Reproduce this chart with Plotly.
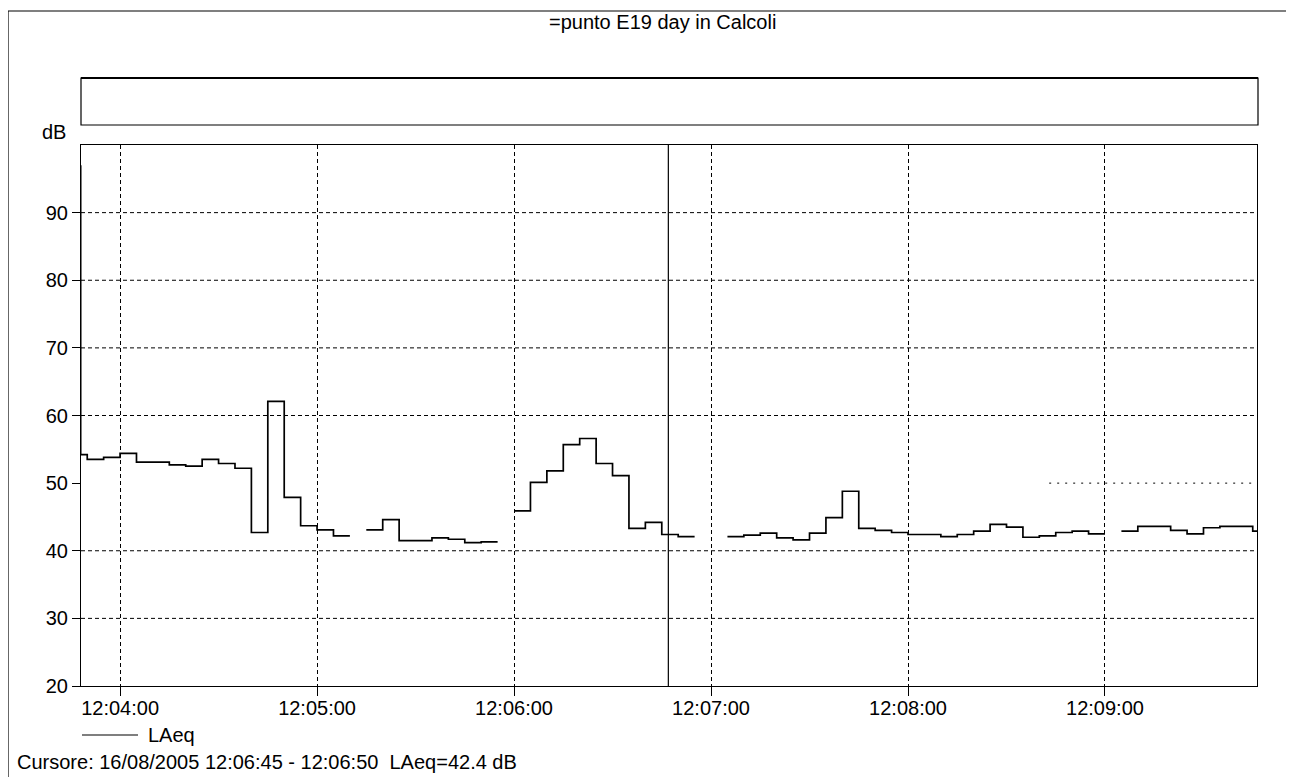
import plotly.graph_objects as go

# LAeq per 5 s interval (level starts at the given time), None = no trace drawn
DAY = "2005-08-16 "
TIMES = [
    "12:03:48", "12:03:48", "12:03:50", "12:03:55",
    "12:04:00", "12:04:05", "12:04:10", "12:04:15", "12:04:20", "12:04:25",
    "12:04:30", "12:04:35", "12:04:40", "12:04:45", "12:04:50", "12:04:55",
    "12:05:00", "12:05:05", "12:05:10", "12:05:15", "12:05:20", "12:05:25",
    "12:05:30", "12:05:35", "12:05:40", "12:05:45", "12:05:50", "12:05:55",
    "12:06:00", "12:06:05", "12:06:10", "12:06:15", "12:06:20", "12:06:25",
    "12:06:30", "12:06:35", "12:06:40", "12:06:45", "12:06:50", "12:06:55",
    "12:07:00", "12:07:05", "12:07:10", "12:07:15", "12:07:20", "12:07:25",
    "12:07:30", "12:07:35", "12:07:40", "12:07:45", "12:07:50", "12:07:55",
    "12:08:00", "12:08:05", "12:08:10", "12:08:15", "12:08:20", "12:08:25",
    "12:08:30", "12:08:35", "12:08:40", "12:08:45", "12:08:50", "12:08:55",
    "12:09:00", "12:09:05", "12:09:10", "12:09:15", "12:09:20", "12:09:25",
    "12:09:30", "12:09:35", "12:09:40", "12:09:45",
]
END_TIME = "12:09:50"
LAEQ = [
    97.0, 54.2, 53.5, 53.8,
    54.4, 53.1, 53.1, 52.7, 52.5, 53.5,
    52.9, 52.2, 42.7, 62.1, 47.9, 43.7,
    43.1, 42.2, None, 43.1, 44.6, 41.5,
    41.5, 41.9, 41.7, 41.2, 41.3, None,
    45.9, 50.1, 51.8, 55.7, 56.6, 52.9,
    51.1, 43.3, 44.2, 42.4, 42.1, None,
    None, 42.1, 42.3, 42.6, 41.9, 41.6,
    42.6, 44.9, 48.8, 43.3, 43.0, 42.7,
    42.4, 42.4, 42.1, 42.4, 42.9, 43.9,
    43.5, 42.0, 42.2, 42.7, 42.9, 42.5,
    None, 42.9, 43.6, 43.6, 43.0, 42.5,
    43.4, 43.6, 43.6, 42.9,
]

Y_TICKS = [20, 30, 40, 50, 60, 70, 80, 90]
GRID_DB = [30, 40, 60, 70, 80, 90]   # 50 dB line is mostly missing in the print
X_RANGE = ["12:03:48.1", "12:09:46.3"]
CURSOR_TIME = "12:06:47"
TITLE = "=punto E19 day in Calcoli"
CURSOR_TEXT = "Cursore: 16/08/2005 12:06:45 - 12:06:50\u00a0\u00a0LAeq=42.4 dB"

# page body has an 8px margin, so the figure is drawn 8px smaller and shifted
OFF = 8
W, H = 1294 - OFF, 777 - OFF
L, R, T, B = 81 - OFF, 37, 145 - OFF, 91
PW, PH = W - L - R, H - T - B


def px_x(px):
    return (px - OFF - L) / PW


def px_y(py):
    return (H - B - (py - OFF)) / PH


# step line with breaks
xs, ys = [], []
for i, (t, v) in enumerate(zip(TIMES, LAEQ)):
    nxt_t = TIMES[i + 1] if i + 1 < len(TIMES) else END_TIME
    nxt_v = LAEQ[i + 1] if i + 1 < len(LAEQ) else None
    xs.append(DAY + t)
    ys.append(v)
    if v is not None and nxt_v is None:
        xs.append(DAY + nxt_t)
        ys.append(v)

FONT = dict(family="Liberation Sans, Arial, sans-serif", size=20, color="black")

fig = go.Figure()
fig.add_trace(go.Scatter(
    x=xs, y=ys, mode="lines", line=dict(color="black", width=1.7, shape="hv"),
    connectgaps=False, showlegend=False, hoverinfo="skip",
))

shapes = []
for v in GRID_DB:
    shapes.append(dict(type="line", xref="paper", yref="y", x0=0, x1=1, y0=v, y1=v,
                       line=dict(color="black", width=1, dash="4px,3px"), layer="below"))
shapes.append(dict(type="line", xref="x", yref="y", x0=DAY + "12:08:43", x1=DAY + X_RANGE[1],
                   y0=50, y1=50, line=dict(color="black", width=1, dash="2px,6px"), layer="below"))
# cursor
shapes.append(dict(type="line", xref="x", yref="paper", x0=DAY + CURSOR_TIME, x1=DAY + CURSOR_TIME,
                   y0=0, y1=1, line=dict(color="black", width=1.2)))
# empty band above the plot
shapes.append(dict(type="rect", xref="paper", yref="paper", x0=px_x(81), x1=px_x(1258),
                   y0=px_y(125), y1=px_y(78), line=dict(color="black", width=1.2)))
shapes.append(dict(type="line", xref="paper", yref="paper", x0=px_x(81), x1=px_x(1258),
                   y0=px_y(78), y1=px_y(78), line=dict(color="black", width=2)))
# outer frame (top and left edges)
shapes.append(dict(type="line", xref="paper", yref="paper", x0=px_x(8), x1=px_x(1300),
                   y0=px_y(11), y1=px_y(11), line=dict(color="black", width=1.2)))
shapes.append(dict(type="line", xref="paper", yref="paper", x0=px_x(8), x1=px_x(8),
                   y0=px_y(11), y1=px_y(790), line=dict(color="black", width=1.2)))
# legend sample line
shapes.append(dict(type="line", xref="paper", yref="paper", x0=px_x(82), x1=px_x(138),
                   y0=px_y(735), y1=px_y(735), line=dict(color="black", width=1.2)))

annotations = [
    dict(text=TITLE, x=px_x(662), y=px_y(22), xanchor="center", yanchor="middle"),
    dict(text="dB", x=px_x(54), y=px_y(132), xanchor="center", yanchor="middle"),
    dict(text="LAeq", x=px_x(146), y=px_y(735), xanchor="left", yanchor="middle"),
    dict(text=CURSOR_TEXT, x=px_x(15), y=px_y(762), xanchor="left", yanchor="middle"),
]
for a in annotations:
    a.update(xref="paper", yref="paper", showarrow=False, font=FONT)

fig.update_layout(
    width=W, height=H,
    margin=dict(l=L, r=R, t=T, b=B, pad=0),
    paper_bgcolor="white", plot_bgcolor="white",
    font=FONT,
    shapes=shapes, annotations=annotations,
    xaxis=dict(
        type="date", range=[DAY + X_RANGE[0], DAY + X_RANGE[1]],
        tick0=DAY + "12:04:00", dtick=60000, tickformat="%H:%M:%S",
        showgrid=True, gridcolor="black", gridwidth=1, griddash="4px,3px",
        showline=True, linecolor="black", linewidth=1, mirror=True,
        ticks="outside", ticklen=9, tickcolor="black", zeroline=False,
        ticklabelstandoff=-5,
    ),
    yaxis=dict(
        range=[20, 100], tickvals=Y_TICKS,
        showgrid=False,
        showline=True, linecolor="black", linewidth=1, mirror=True,
        ticks="outside", ticklen=8, tickcolor="black", zeroline=False,
    ),
)

fig.write_html("out.html")
